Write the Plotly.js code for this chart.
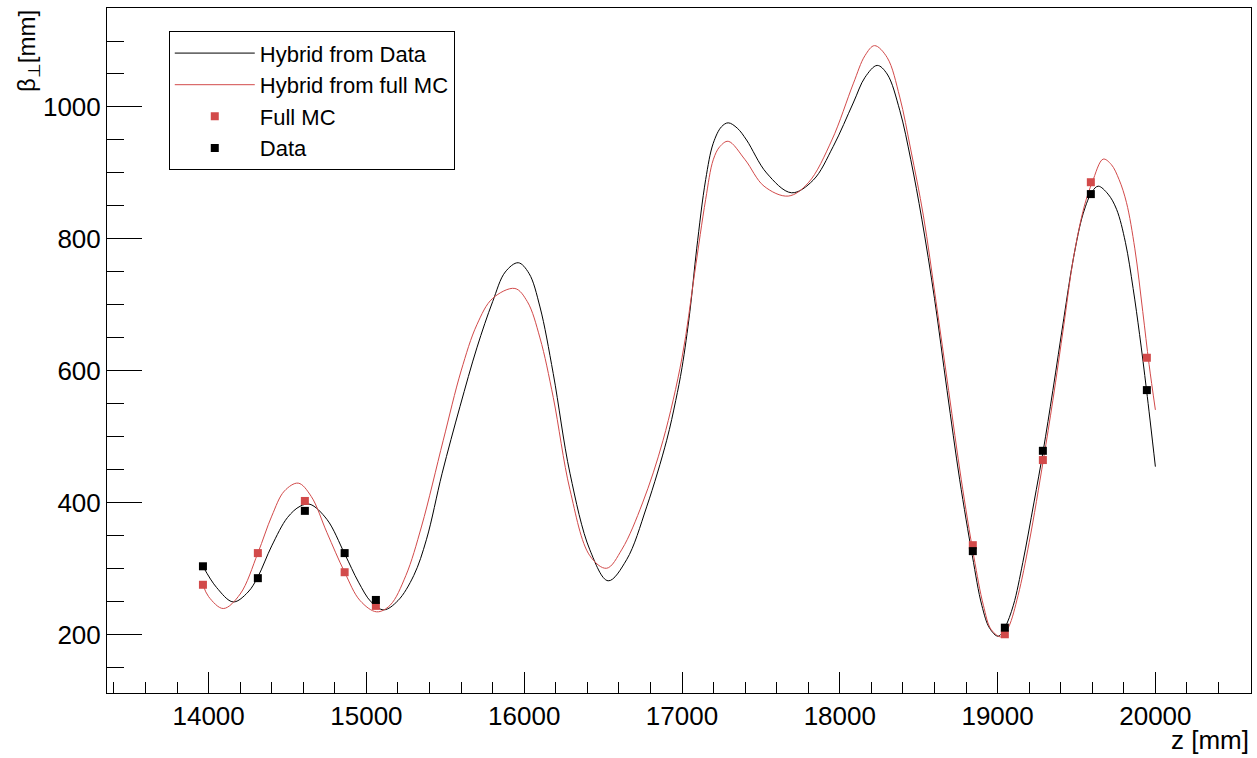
<!DOCTYPE html>
<html>
<head>
<meta charset="utf-8">
<script src="https://cdn.plot.ly/plotly-3.0.1.min.js"></script>
<style>html,body{margin:0;padding:0;background:#fff;}#chart{width:1257px;height:758px;}</style>
</head>
<body>
<div id="chart"></div>
<script>
// Hybrid from Data (black curve)
const hybridDataZ = [13964,14050,14156,14250,14312,14400,14500,14580,14642,14750,14862,14950,15030,15110,15200,15300,15381,15480,15593,15700,15800,15880,15962,16030,16100,16184,16290,16416,16532,16649,16776,16903,16960,17000,17050,17093,17150,17198,17250,17293,17350,17409,17536,17694,17831,17958,18085,18160,18237,18300,18380,18450,18520,18600,18680,18760,18840,18900,18950,19004,19046,19100,19160,19230,19289,19350,19420,19480,19543,19600,19638,19700,19754,19810,19859,19900,19944,20000];
const hybridDataBeta = [304,272,250,265,288,335,378,395,398,375,323,280,250,238,252,290,345,445,546,635,705,750,764,748,697,596,445,329,282,314,394,495,555,605,690,785,890,945,970,976,968,950,900,870,889,940,1006,1045,1063,1050,995,920,830,710,570,435,320,245,210,198,211,245,310,400,479,570,680,770,839,872,880,868,845,795,725,655,571,455];

// Hybrid from full MC (red curve)
const hybridMCZ = [13964,14000,14093,14200,14312,14400,14480,14568,14650,14750,14862,14960,15065,15150,15250,15350,15487,15600,15700,15800,15941,16020,16100,16184,16290,16416,16522,16620,16750,16880,17000,17080,17150,17198,17240,17293,17400,17520,17673,17800,17950,18085,18160,18220,18300,18380,18450,18530,18610,18690,18770,18850,18910,18960,19025,19070,19130,19200,19290,19350,19420,19480,19550,19600,19669,19720,19770,19817,19870,19920,19960,20000];
const hybridMCBeta = [276,258,240,262,324,380,418,430,410,355,295,252,235,245,290,365,495,600,670,710,725,705,650,560,420,320,301,330,400,495,620,748,860,920,940,948,920,880,865,885,950,1035,1078,1093,1075,1015,935,835,705,570,435,318,245,208,197,212,260,340,465,555,670,770,850,886,921,913,890,855,785,690,610,541];

// Measured points
const pointZ = [13964,14312,14610,14862,15060,18843,19046,19287,19591,19946];
const fullMCBeta = [276,324,403,295,244,336,201,465,886,620];
const dataBeta = [304,286,388,324,253,327,211,479,868,571];

const legendNames = ['Hybrid from Data','Hybrid from full MC','Full MC','Data'];
const redColor = '#d24a4a';
const font = 'Liberation Sans, Arial, Helvetica, sans-serif';

const traces = [
  {x: hybridDataZ, y: hybridDataBeta, mode:'lines', name: legendNames[0],
   line:{color:'#000', width:1, shape:'spline', smoothing:1}},
  {x: hybridMCZ, y: hybridMCBeta, mode:'lines', name: legendNames[1],
   line:{color:redColor, width:1, shape:'spline', smoothing:1}},
  {x: pointZ, y: fullMCBeta, mode:'markers', name: legendNames[2],
   marker:{symbol:'square', size:8, color:redColor}},
  {x: pointZ, y: dataBeta, mode:'markers', name: legendNames[3],
   marker:{symbol:'square', size:8, color:'#000'}}
];

const layout = {
  width:1257, height:758,
  margin:{l:107, r:6, t:8, b:65},
  paper_bgcolor:'#fff', plot_bgcolor:'#fff',
  font:{family:font, size:26, color:'#000'},
  showlegend:true,
  legend:{x:0.054, y:0.966, xanchor:'left', yanchor:'top',
    bgcolor:'#fff', bordercolor:'#000', borderwidth:1,
    itemwidth:80,
    font:{family:font, size:22, color:'#000'}, tracegroupgap:0},
  xaxis:{range:[13356,20606], showgrid:false, zeroline:false,
    showline:true, linecolor:'#000', linewidth:1, mirror:true,
    ticks:'inside', ticklen:21, tickcolor:'#000', tickwidth:1,
    tick0:14000, dtick:1000, tickformat:'d',
    minor:{ticks:'inside', ticklen:11, tickcolor:'#000', tickwidth:1, dtick:200, tick0:14000, showgrid:false},
    tickfont:{family:font, size:26, color:'#000'}},
  yaxis:{range:[112,1150], showgrid:false, zeroline:false,
    showline:true, linecolor:'#000', linewidth:1, mirror:true,
    ticks:'inside', ticklen:35, tickcolor:'#000', tickwidth:1,
    tick0:200, dtick:200, tickformat:'d',
    minor:{ticks:'inside', ticklen:17, tickcolor:'#000', tickwidth:1, dtick:50, tick0:200, showgrid:false},
    tickfont:{family:font, size:26, color:'#000'}},
  annotations:[
    {text:'z [mm]', xref:'paper', yref:'paper', x:1, y:-0.0686, xanchor:'right', yanchor:'middle',
     showarrow:false, font:{family:font, size:26, color:'#000'}},
    {text:'β<sub>⊥</sub>[mm]', xref:'paper', yref:'paper', x:-0.069, y:1.0, xanchor:'center', yanchor:'top',
     textangle:-90, showarrow:false, font:{family:font, size:24, color:'#000'}}
  ]
};

Plotly.newPlot('chart', traces, layout, {displayModeBar:false, staticPlot:true});
</script>
</body>
</html>
